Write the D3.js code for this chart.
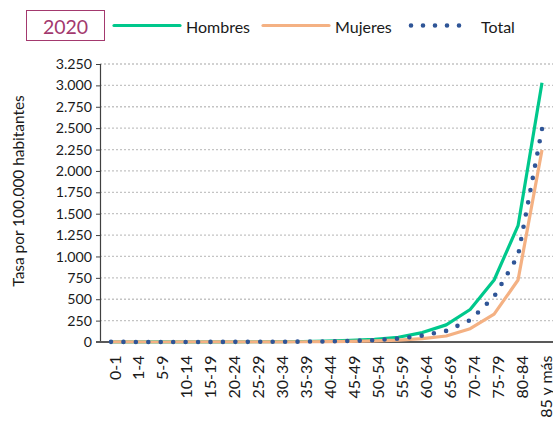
<!DOCTYPE html>
<html>
<head>
<meta charset="utf-8">
<script src="https://cdn.jsdelivr.net/npm/d3@7"></script>
<style>
  html, body { margin: 0; padding: 0; background: #fff; }
  svg { display: block; font-family: Lato, "Open Sans", sans-serif; }
</style>
</head>
<body>
<svg id="chart" width="553" height="426"></svg>
<script>
// Age groups
const categories = ["0-1","1-4","5-9","10-14","15-19","20-24","25-29","30-34","35-39",
  "40-44","45-49","50-54","55-59","60-64","65-69","70-74","75-79","80-84","85 y más"];
// Rates per 100,000 inhabitants, 2020
const hombres = [2, 0.5, 0.3, 0.5, 1, 2, 3, 4, 6, 10, 18, 32, 55, 110, 200, 380, 725, 1360, 3030];
const mujeres = [1.5, 0.4, 0.2, 0.3, 0.6, 1, 1.5, 2, 3, 4, 7, 13, 22, 40, 70, 155, 325, 725, 2245];
const total   = [2, 0.5, 0.3, 0.4, 0.8, 1.5, 2, 3, 4.5, 7, 12, 22, 40, 75, 130, 255, 530, 1010, 2490];
const yTicks = d3.range(0, 3251, 250);

const svg = d3.select("#chart");
const fmt = d3.formatLocale({ decimal: ",", thousands: ".", grouping: [3], currency: ["", ""] }).format(",d");

const x = d3.scalePoint().domain(categories).range([111, 542]);
const y = d3.scaleLinear().domain([0, 3250]).range([342, 64]);
const axisLeftX = 100, plotRight = 553;

// horizontal dotted gridlines
svg.append("g").selectAll("line")
  .data(yTicks.filter(d => d > 0))
  .join("line")
  .attr("x1", axisLeftX).attr("x2", plotRight)
  .attr("y1", d => y(d)).attr("y2", d => y(d))
  .attr("stroke", "#c4c4c4").attr("stroke-width", 1.3)
  .attr("stroke-dasharray", "2,2");

// y axis
const yAxis = svg.append("g")
  .attr("transform", `translate(${axisLeftX},0)`)
  .call(d3.axisLeft(y).tickValues(yTicks).tickSize(4).tickPadding(4).tickFormat(fmt));
yAxis.select(".domain").attr("stroke", "#404040").attr("stroke-width", 1.2);
yAxis.selectAll(".tick line").attr("stroke", "#404040");
yAxis.selectAll("text").attr("font-size", 14.2).attr("fill", "#1a1a1a")
  .attr("font-family", "Lato, sans-serif");

// x axis baseline and rotated labels
const xAxis = svg.append("g")
  .attr("transform", `translate(0,${y(0)})`)
  .call(d3.axisBottom(x).tickSize(0).tickPadding(0));
xAxis.select(".domain").remove();
svg.append("line")
  .attr("x1", axisLeftX - 4).attr("x2", plotRight)
  .attr("y1", y(0)).attr("y2", y(0))
  .attr("stroke", "#595959").attr("stroke-width", 2);
xAxis.selectAll("text")
  .attr("font-size", 16).attr("fill", "#1a1a1a")
  .attr("font-family", "Lato, sans-serif")
  .attr("text-anchor", "end")
  .attr("dy", null)
  .attr("dominant-baseline", "central")
  .attr("transform", "translate(2.5,13.5) rotate(-90)")
  .attr("y", 0);

// y axis title
svg.append("text")
  .attr("transform", "translate(18,191) rotate(-90)")
  .attr("text-anchor", "middle")
  .attr("dominant-baseline", "central")
  .attr("font-size", 15.4).attr("fill", "#1a1a1a")
  .text("Tasa por 100.000 habitantes");

// series lines
const line = d3.line().x((d, i) => x(categories[i])).y(d => y(d));
svg.append("path").datum(hombres).attr("d", line)
  .attr("fill", "none").attr("stroke", "#00c88c").attr("stroke-width", 3.2)
  .attr("stroke-linejoin", "round");
svg.append("path").datum(mujeres).attr("d", line)
  .attr("fill", "none").attr("stroke", "#f4b183").attr("stroke-width", 3.2)
  .attr("stroke-linejoin", "round");
const totalPath = svg.append("path").datum(total).attr("d", line)
  .attr("fill", "none").attr("stroke", "#2f5597").attr("stroke-width", 4.6)
  .attr("stroke-linecap", "round");
// round dots spaced so that one lands on each end of the line
const len = totalPath.node().getTotalLength();
const gap = len / Math.round(len / 12.5);
totalPath.attr("stroke-dasharray", `0,${gap}`);

// year box
svg.append("rect").attr("x", 26.5).attr("y", 10.5).attr("width", 78).attr("height", 30)
  .attr("fill", "#fff").attr("stroke", "#a3396e").attr("stroke-width", 1);
svg.append("text").attr("x", 65.5).attr("y", 26).attr("text-anchor", "middle")
  .attr("dominant-baseline", "central").attr("font-size", 19.5).attr("fill", "#a3396e")
  .text("2020");

// legend
const legend = [
  { name: "Hombres", color: "#00c88c", x1: 114, x2: 180, dotted: false, tx: 186 },
  { name: "Mujeres", color: "#f4b183", x1: 263, x2: 329, dotted: false, tx: 335 },
  { name: "Total", color: "#2f5597", x1: 411, x2: 471, dotted: true, tx: 481 }
];
const lg = svg.append("g");
legend.forEach(l => {
  const ln = lg.append("line").attr("x1", l.x1).attr("x2", l.x2).attr("y1", 25.5).attr("y2", 25.5)
    .attr("stroke", l.color);
  if (l.dotted) {
    ln.attr("stroke-width", 4.6).attr("stroke-linecap", "round").attr("stroke-dasharray", "0,12");
  } else {
    ln.attr("stroke-width", 3.2).attr("stroke-linecap", "round");
  }
  lg.append("text").attr("x", l.tx).attr("y", 26).attr("dominant-baseline", "central")
    .attr("font-size", 16).attr("fill", "#1a1a1a").text(l.name);
});
</script>
</body>
</html>
